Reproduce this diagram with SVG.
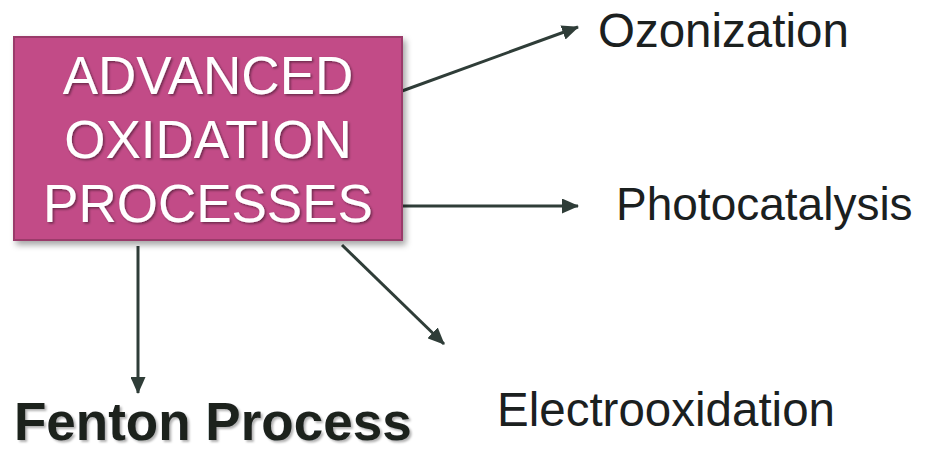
<svg xmlns="http://www.w3.org/2000/svg" width="927" height="459" viewBox="0 0 927 459">
  <defs>
    <filter id="boxShadow" x="-10%" y="-10%" width="125%" height="130%">
      <feDropShadow dx="3" dy="4" stdDeviation="3" flood-color="#000" flood-opacity="0.35"/>
    </filter>
    <filter id="txtShadow" x="-5%" y="-10%" width="115%" height="130%">
      <feDropShadow dx="1.5" dy="1.5" stdDeviation="1" flood-color="#000" flood-opacity="0.45"/>
    </filter>
    <filter id="darkTxtShadow" x="-5%" y="-10%" width="115%" height="130%">
      <feDropShadow dx="2" dy="2" stdDeviation="1.2" flood-color="#000" flood-opacity="0.3"/>
    </filter>
    <marker id="arrow" markerUnits="userSpaceOnUse" markerWidth="17" markerHeight="15" refX="16" refY="7.5" orient="auto">
      <path d="M0,0 L17,7.5 L0,15 Z" fill="#2F3D38"/>
    </marker>
    <style>
      .box { fill: #C24B87; stroke: #9A3A6B; stroke-width: 2; }
      .boxText { font-family: "Liberation Sans", Arial, sans-serif; font-size: 53px; fill: #ffffff; text-anchor: middle; }
      .label { font-family: "Liberation Sans", Arial, sans-serif; font-size: 47.5px; fill: #1B201F; }
      .bold { font-family: "Liberation Sans", Arial, sans-serif; font-size: 53px; font-weight: bold; fill: #1B201F; }
      .conn { stroke: #2F3D38; stroke-width: 3; fill: none; marker-end: url(#arrow); }
    </style>
  </defs>
  <rect width="927" height="459" fill="#ffffff"/>

  <g id="connectors">
    <line class="conn" x1="402" y1="91" x2="578" y2="27"/>
    <line class="conn" x1="403" y1="206" x2="578" y2="206"/>
    <line class="conn" x1="342" y1="245" x2="444" y2="344"/>
    <line class="conn" x1="138" y1="246" x2="138" y2="393"/>
  </g>

  <g id="aop">
    <rect class="box" x="14" y="37" width="388" height="203" filter="url(#boxShadow)"/>
    <g filter="url(#txtShadow)">
      <text class="boxText" x="208" y="94">ADVANCED</text>
      <text class="boxText" x="208" y="158">OXIDATION</text>
      <text class="boxText" x="208" y="222">PROCESSES</text>
    </g>
  </g>

  <g id="ozonization">
    <text class="label" x="598" y="47">Ozonization</text>
  </g>
  <g id="photocatalysis">
    <text class="label" x="616" y="220" style="font-size:46px">Photocatalysis</text>
  </g>
  <g id="electrooxidation">
    <text class="label" x="497" y="426">Electrooxidation</text>
  </g>
  <g id="fenton">
    <text class="bold" x="14" y="440" filter="url(#darkTxtShadow)">Fenton Process</text>
  </g>
</svg>
